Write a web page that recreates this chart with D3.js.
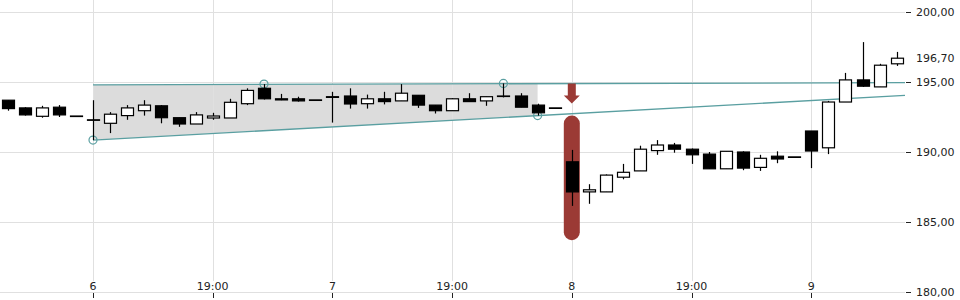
<!DOCTYPE html>
<html>
<head>
<meta charset="utf-8">
<script src="https://cdn.jsdelivr.net/npm/d3@7"></script>
<style>
  body { margin: 0; background: #fff; }
  text { font-family: "DejaVu Sans", sans-serif; font-size: 11px; fill: #222; }
</style>
</head>
<body>
<div id="chart-area"></div>
<script>
const WIDTH = 960
const HEIGHT = 300

// hourly candles, index 0..52
const opens  = [193.7, 193.15, 192.55, 193.2, 192.57, 192.3, 192.05, 192.6, 192.95, 193.3,
  192.45, 192.0, 192.43, 192.43, 193.45, 194.55, 193.8, 193.8, 193.72, 193.95,
  194.0, 193.45, 193.8, 193.65, 194.05, 193.35, 192.95, 193.8, 193.65, 194.0,
  194.0, 193.35, 193.15, 189.3, 187.15, 187.15, 188.2, 188.65, 190.1, 190.5,
  190.2, 189.85, 188.8, 190.0, 188.9, 189.7, 189.65, 191.5, 190.3, 193.57,
  195.15, 194.65, 196.3]
const highs  = [193.7, 193.2, 193.3, 193.35, 192.57, 193.7, 192.85, 193.35, 193.7, 193.35,
  192.45, 192.85, 192.8, 193.8, 194.55, 194.85, 194.15, 193.95, 193.72, 194.3,
  194.55, 194.1, 194.3, 194.85, 194.05, 193.35, 193.85, 194.2, 193.95, 194.9,
  194.2, 193.45, 193.15, 190.15, 187.7, 188.4, 189.15, 190.45, 190.85, 190.65,
  190.25, 190.0, 190.05, 190.05, 189.8, 190.05, 189.65, 191.5, 193.65, 195.65,
  197.85, 196.3, 197.15]
const lows   = [192.95, 192.6, 192.45, 192.5, 192.57, 190.85, 191.35, 192.3, 192.6, 192.05,
  191.8, 192.0, 192.3, 192.43, 193.35, 193.75, 193.7, 193.6, 193.72, 192.1,
  193.1, 193.1, 193.4, 193.65, 193.15, 192.75, 192.95, 193.6, 193.3, 193.9,
  193.2, 192.6, 193.15, 186.15, 186.3, 187.15, 188.05, 188.65, 189.8, 189.95,
  189.15, 188.8, 188.8, 188.7, 188.65, 189.2, 189.65, 188.85, 189.85, 193.57,
  194.65, 194.65, 196.15]
const closes = [193.1, 192.65, 193.15, 192.65, 192.57, 192.3, 192.7, 193.15, 193.35, 192.45,
  192.0, 192.65, 192.57, 193.55, 194.4, 193.8, 193.72, 193.65, 193.72, 193.9,
  193.43, 193.8, 193.6, 194.2, 193.35, 192.95, 193.8, 193.6, 193.95, 193.97,
  193.2, 192.8, 193.15, 187.15, 187.3, 188.35, 188.55, 190.2, 190.5, 190.2,
  189.8, 188.8, 190.05, 188.85, 189.55, 189.5, 189.65, 190.07, 193.57, 195.15,
  194.7, 196.2, 196.7]

const xTickIdx = [5, 12, 19, 26, 33, 40, 47]
const xTickLabels = ["6", "19:00", "7", "19:00", "8", "19:00", "9"]
const yTicks = [180, 185, 190, 195, 200]
const lastPrice = 196.7

// wedge pattern: [index, price]
const wedgeTop = [[5, 194.8], [52.5, 194.95]]
const wedgeBottom = [[5, 190.85], [31, 192.6]]
const wedgeEndIdx = 31
const pivots = [[5, 190.85], [15, 194.85], [29, 194.9], [31, 192.6]]

// highlighted gap candle
const signalIdx = 33
const signalRange = [183.7, 192.6]

const PLOT_RIGHT = 905

const svg = d3.select("#chart-area").append("svg")
  .attr("width", WIDTH)
  .attr("height", HEIGHT)

const x = d3.scaleLinear().domain([0, 52]).range([7.5, 7.5 + 52 * 17.1])
const y = d3.scaleLinear().domain([180, 200]).range([292, 12])

const fmt = v => d3.format(".2f")(v).replace(".", ",")

// wedge lines extended to the right edge
const lineAt = (pts, i) => {
  const [a, b] = pts
  return a[1] + (b[1] - a[1]) * (i - a[0]) / (b[0] - a[0])
}
const endIdx = x.invert(PLOT_RIGHT)

const fillPts = [
  [wedgeTop[0][0], lineAt(wedgeTop, wedgeTop[0][0])],
  [wedgeEndIdx, lineAt(wedgeTop, wedgeEndIdx)],
  [wedgeEndIdx, lineAt(wedgeBottom, wedgeEndIdx)],
  [wedgeBottom[0][0], lineAt(wedgeBottom, wedgeBottom[0][0])]
]
svg.append("polygon")
  .attr("points", fillPts.map(p => [x(p[0]), y(p[1])].join(",")).join(" "))
  .attr("fill", "#dcdcdc")

// grid
svg.append("g").selectAll("line").data(yTicks).enter().append("line")
  .attr("x1", 0).attr("x2", PLOT_RIGHT)
  .attr("y1", d => Math.round(y(d)) + 0.5).attr("y2", d => Math.round(y(d)) + 0.5)
  .attr("stroke", "#e0e0e0")
svg.append("g").selectAll("line").data(xTickIdx).enter().append("line")
  .attr("x1", d => Math.round(x(d)) + 0.5).attr("x2", d => Math.round(x(d)) + 0.5)
  .attr("y1", 0).attr("y2", 281)
  .attr("stroke", "#e0e0e0")

// x axis: labels above the bottom line, ticks below
const xa = svg.append("g")
xa.selectAll("text").data(xTickIdx).enter().append("text")
  .attr("x", d => x(d))
  .attr("y", 290)
  .attr("text-anchor", "middle")
  .text((d, i) => xTickLabels[i])
xa.selectAll("line").data(xTickIdx).enter().append("line")
  .attr("x1", d => Math.round(x(d)) + 0.5).attr("x2", d => Math.round(x(d)) + 0.5)
  .attr("y1", 293).attr("y2", 298)
  .attr("stroke", "#222")

// y axis on the right
const ya = svg.append("g")
ya.selectAll("line").data(yTicks).enter().append("line")
  .attr("x1", PLOT_RIGHT + 1).attr("x2", PLOT_RIGHT + 6)
  .attr("y1", d => Math.round(y(d)) + 0.5).attr("y2", d => Math.round(y(d)) + 0.5)
  .attr("stroke", "#222")
ya.selectAll("text").data(yTicks.concat([lastPrice])).enter().append("text")
  .attr("x", 916)
  .attr("y", d => y(d))
  .attr("dy", "0.35em")
  .text(d => fmt(d))

// wedge lines
const teal = "#5a9fa1"
;[wedgeTop, wedgeBottom].forEach(pts => {
  svg.append("line")
    .attr("x1", x(pts[0][0])).attr("y1", y(lineAt(pts, pts[0][0])))
    .attr("x2", x(endIdx)).attr("y2", y(lineAt(pts, endIdx)))
    .attr("stroke", teal)
    .attr("stroke-width", 1.3)
})
svg.append("g").selectAll("circle").data(pivots).enter().append("circle")
  .attr("cx", d => x(d[0])).attr("cy", d => y(d[1]))
  .attr("r", 4)
  .attr("fill", "none")
  .attr("stroke", teal)
  .attr("stroke-width", 1.2)

// signal marker
const red = "#9b3a35"
const sx = x(signalIdx)
svg.append("rect")
  .attr("x", sx - 8).attr("width", 16)
  .attr("y", y(signalRange[1])).attr("height", y(signalRange[0]) - y(signalRange[1]))
  .attr("rx", 8)
  .attr("fill", red)
const tipY = y(signalRange[1]) - 12
svg.append("path")
  .attr("d", `M${sx - 4},${tipY - 20} L${sx + 4},${tipY - 20} L${sx + 4},${tipY - 8} L${sx + 8},${tipY - 8} L${sx},${tipY} L${sx - 8},${tipY - 8} L${sx - 4},${tipY - 8} Z`)
  .attr("fill", red)

// candles
const candles = opens.map((o, i) => ({ i, o, h: highs[i], l: lows[i], c: closes[i] }))
const cg = svg.append("g").selectAll("g").data(candles).enter().append("g")
cg.append("line")
  .attr("x1", d => Math.round(x(d.i)) + 0.5).attr("x2", d => Math.round(x(d.i)) + 0.5)
  .attr("y1", d => y(d.h)).attr("y2", d => y(d.l))
  .attr("stroke", "#000")
  .attr("stroke-width", 1.2)
cg.append("rect")
  .attr("x", d => Math.round(x(d.i)) - 5.5)
  .attr("width", 12)
  .attr("y", d => y(Math.max(d.o, d.c)))
  .attr("height", d => Math.max(0.5, Math.abs(y(d.o) - y(d.c))))
  .attr("fill", d => d.c > d.o ? "#fff" : "#000")
  .attr("stroke", "#000")
  .attr("stroke-width", 1.2)
</script>
</body>
</html>
